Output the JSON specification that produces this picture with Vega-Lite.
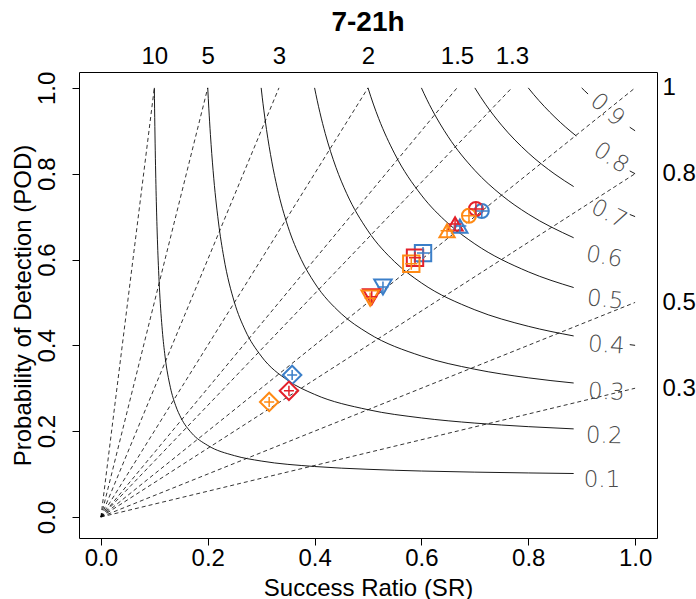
{
  "$schema": "https://vega.github.io/schema/vega-lite/v6.json",
  "width": 578,
  "height": 466,
  "autosize": {"type": "none"},
  "padding": {"left": 79, "top": 72, "right": 39, "bottom": 61},
  "background": "white",
  "title": {"text": "7-21h", "fontSize": 28, "font": "Liberation Sans", "fontWeight": "bold", "color": "black", "anchor": "middle", "offset": 7},
  "config": {
    "view": {"stroke": "black", "strokeWidth": 1},
    "axis": {"labelFont": "Liberation Sans", "titleFont": "Liberation Sans", "labelFontSize": 24, "titleFontSize": 24, "labelColor": "black", "titleColor": "black", "titleFontWeight": "normal", "tickColor": "black", "tickWidth": 1, "domain": false, "grid": false, "labelFlush": false, "labelOverlap": false}
  },
  "datasets": {
    "bias": [
      {"B": "0.3", "SR": 0, "POD": 0}, {"B": "0.3", "SR": 1, "POD": 0.3},
      {"B": "0.5", "SR": 0, "POD": 0}, {"B": "0.5", "SR": 1, "POD": 0.5},
      {"B": "0.8", "SR": 0, "POD": 0}, {"B": "0.8", "SR": 1, "POD": 0.8},
      {"B": "1", "SR": 0, "POD": 0}, {"B": "1", "SR": 1, "POD": 1},
      {"B": "1.3", "SR": 0, "POD": 0}, {"B": "1.3", "SR": 0.769231, "POD": 1},
      {"B": "1.5", "SR": 0, "POD": 0}, {"B": "1.5", "SR": 0.666667, "POD": 1},
      {"B": "2", "SR": 0, "POD": 0}, {"B": "2", "SR": 0.5, "POD": 1},
      {"B": "3", "SR": 0, "POD": 0}, {"B": "3", "SR": 0.333333, "POD": 1},
      {"B": "5", "SR": 0, "POD": 0}, {"B": "5", "SR": 0.2, "POD": 1},
      {"B": "10", "SR": 0, "POD": 0}, {"B": "10", "SR": 0.1, "POD": 1}
    ],
    "csi": [
      {"seg": "0.1", "SR": 0.1, "POD": 1}, {"seg": "0.1", "SR": 0.1005, "POD": 0.9526}, {"seg": "0.1", "SR": 0.101, "POD": 0.9099}, {"seg": "0.1", "SR": 0.102, "POD": 0.8361}, {"seg": "0.1", "SR": 0.103, "POD": 0.7744}, {"seg": "0.1", "SR": 0.105, "POD": 0.6774}, {"seg": "0.1", "SR": 0.108, "POD": 0.5745}, {"seg": "0.1", "SR": 0.11, "POD": 0.5238}, {"seg": "0.1", "SR": 0.115, "POD": 0.434}, {"seg": "0.1", "SR": 0.12, "POD": 0.375}, {"seg": "0.1", "SR": 0.13, "POD": 0.3023}, {"seg": "0.1", "SR": 0.14, "POD": 0.2593}, {"seg": "0.1", "SR": 0.15, "POD": 0.2308}, {"seg": "0.1", "SR": 0.17, "POD": 0.1954}, {"seg": "0.1", "SR": 0.2, "POD": 0.1667}, {"seg": "0.1", "SR": 0.25, "POD": 0.1429}, {"seg": "0.1", "SR": 0.3, "POD": 0.1304}, {"seg": "0.1", "SR": 0.4, "POD": 0.1176}, {"seg": "0.1", "SR": 0.5, "POD": 0.1111}, {"seg": "0.1", "SR": 0.6, "POD": 0.1071}, {"seg": "0.1", "SR": 0.7, "POD": 0.1045}, {"seg": "0.1", "SR": 0.8, "POD": 0.1026}, {"seg": "0.1", "SR": 0.885, "POD": 0.1013},
      {"seg": "0.2", "SR": 0.2, "POD": 1}, {"seg": "0.2", "SR": 0.201, "POD": 0.9757}, {"seg": "0.2", "SR": 0.202, "POD": 0.9528}, {"seg": "0.2", "SR": 0.205, "POD": 0.8913}, {"seg": "0.2", "SR": 0.21, "POD": 0.8077}, {"seg": "0.2", "SR": 0.22, "POD": 0.6875}, {"seg": "0.2", "SR": 0.23, "POD": 0.6053}, {"seg": "0.2", "SR": 0.25, "POD": 0.5}, {"seg": "0.2", "SR": 0.27, "POD": 0.4355}, {"seg": "0.2", "SR": 0.3, "POD": 0.375}, {"seg": "0.2", "SR": 0.35, "POD": 0.3182}, {"seg": "0.2", "SR": 0.4, "POD": 0.2857}, {"seg": "0.2", "SR": 0.5, "POD": 0.25}, {"seg": "0.2", "SR": 0.6, "POD": 0.2308}, {"seg": "0.2", "SR": 0.7, "POD": 0.2188}, {"seg": "0.2", "SR": 0.8, "POD": 0.2105}, {"seg": "0.2", "SR": 0.885, "POD": 0.2053},
      {"seg": "0.3", "SR": 0.3, "POD": 1}, {"seg": "0.3", "SR": 0.302, "POD": 0.9784}, {"seg": "0.3", "SR": 0.305, "POD": 0.9482}, {"seg": "0.3", "SR": 0.31, "POD": 0.9029}, {"seg": "0.3", "SR": 0.32, "POD": 0.8276}, {"seg": "0.3", "SR": 0.33, "POD": 0.7674}, {"seg": "0.3", "SR": 0.35, "POD": 0.6774}, {"seg": "0.3", "SR": 0.375, "POD": 0.6}, {"seg": "0.3", "SR": 0.4, "POD": 0.5455}, {"seg": "0.3", "SR": 0.45, "POD": 0.4737}, {"seg": "0.3", "SR": 0.5, "POD": 0.4286}, {"seg": "0.3", "SR": 0.6, "POD": 0.375}, {"seg": "0.3", "SR": 0.7, "POD": 0.3443}, {"seg": "0.3", "SR": 0.8, "POD": 0.3243}, {"seg": "0.3", "SR": 0.885, "POD": 0.3122},
      {"seg": "0.4", "SR": 0.4, "POD": 1}, {"seg": "0.4", "SR": 0.405, "POD": 0.9701}, {"seg": "0.4", "SR": 0.41, "POD": 0.9425}, {"seg": "0.4", "SR": 0.42, "POD": 0.8936}, {"seg": "0.4", "SR": 0.44, "POD": 0.8148}, {"seg": "0.4", "SR": 0.46, "POD": 0.7541}, {"seg": "0.4", "SR": 0.5, "POD": 0.6667}, {"seg": "0.4", "SR": 0.55, "POD": 0.5946}, {"seg": "0.4", "SR": 0.6, "POD": 0.5455}, {"seg": "0.4", "SR": 0.7, "POD": 0.4828}, {"seg": "0.4", "SR": 0.8, "POD": 0.4444}, {"seg": "0.4", "SR": 0.885, "POD": 0.4219},
      {"seg": "0.4t", "SR": 0.99, "POD": 0.4016}, {"seg": "0.4t", "SR": 1, "POD": 0.4},
      {"seg": "0.5", "SR": 0.5, "POD": 1}, {"seg": "0.5", "SR": 0.505, "POD": 0.9806}, {"seg": "0.5", "SR": 0.51, "POD": 0.9623}, {"seg": "0.5", "SR": 0.52, "POD": 0.9286}, {"seg": "0.5", "SR": 0.55, "POD": 0.8462}, {"seg": "0.5", "SR": 0.6, "POD": 0.75}, {"seg": "0.5", "SR": 0.65, "POD": 0.6842}, {"seg": "0.5", "SR": 0.7, "POD": 0.6364}, {"seg": "0.5", "SR": 0.8, "POD": 0.5714}, {"seg": "0.5", "SR": 0.885, "POD": 0.5347},
      {"seg": "0.6", "SR": 0.6, "POD": 1}, {"seg": "0.6", "SR": 0.61, "POD": 0.9734}, {"seg": "0.6", "SR": 0.62, "POD": 0.949}, {"seg": "0.6", "SR": 0.65, "POD": 0.8864}, {"seg": "0.6", "SR": 0.7, "POD": 0.8077}, {"seg": "0.6", "SR": 0.75, "POD": 0.75}, {"seg": "0.6", "SR": 0.8, "POD": 0.7059}, {"seg": "0.6", "SR": 0.885, "POD": 0.6507},
      {"seg": "0.7", "SR": 0.7, "POD": 1}, {"seg": "0.7", "SR": 0.71, "POD": 0.9803}, {"seg": "0.7", "SR": 0.72, "POD": 0.9618}, {"seg": "0.7", "SR": 0.75, "POD": 0.9131}, {"seg": "0.7", "SR": 0.8, "POD": 0.8485}, {"seg": "0.7", "SR": 0.85, "POD": 0.7987}, {"seg": "0.7", "SR": 0.885, "POD": 0.77},
      {"seg": "0.7t", "SR": 0.99, "POD": 0.705}, {"seg": "0.7t", "SR": 1, "POD": 0.7},
      {"seg": "0.8", "SR": 0.8, "POD": 1}, {"seg": "0.8", "SR": 0.81, "POD": 0.9848}, {"seg": "0.8", "SR": 0.83, "POD": 0.9568}, {"seg": "0.8", "SR": 0.85, "POD": 0.9315}, {"seg": "0.8", "SR": 0.87, "POD": 0.9086}, {"seg": "0.8", "SR": 0.89, "POD": 0.8878},
      {"seg": "0.8t", "SR": 0.99, "POD": 0.8065}, {"seg": "0.8t", "SR": 1, "POD": 0.8},
      {"seg": "0.9", "SR": 0.9, "POD": 1}, {"seg": "0.9", "SR": 0.905, "POD": 0.9939}, {"seg": "0.9", "SR": 0.912, "POD": 0.9856},
      {"seg": "0.9t", "SR": 0.99, "POD": 0.9083}, {"seg": "0.9t", "SR": 1, "POD": 0.9}
    ],
    "csiLab": [
      {"csi": 0.1, "SR": 0.938, "POD": 0.086},
      {"csi": 0.2, "SR": 0.942, "POD": 0.189},
      {"csi": 0.3, "SR": 0.946, "POD": 0.291},
      {"csi": 0.4, "SR": 0.946, "POD": 0.4},
      {"csi": 0.5, "SR": 0.944, "POD": 0.506},
      {"csi": 0.6, "SR": 0.942, "POD": 0.606},
      {"csi": 0.7, "SR": 0.951, "POD": 0.706},
      {"csi": 0.8, "SR": 0.955, "POD": 0.837},
      {"csi": 0.9, "SR": 0.948, "POD": 0.949}
    ],
    "pts": [
      {"model": "m1", "cat": "c1", "SR": 0.713, "POD": 0.713},
      {"model": "m1", "cat": "c2", "SR": 0.672, "POD": 0.678},
      {"model": "m1", "cat": "c3", "SR": 0.603, "POD": 0.615},
      {"model": "m1", "cat": "c4", "SR": 0.528, "POD": 0.536},
      {"model": "m1", "cat": "c5", "SR": 0.358, "POD": 0.331},
      {"model": "m2", "cat": "c1", "SR": 0.702, "POD": 0.718},
      {"model": "m2", "cat": "c2", "SR": 0.663, "POD": 0.683},
      {"model": "m2", "cat": "c3", "SR": 0.588, "POD": 0.604},
      {"model": "m2", "cat": "c4", "SR": 0.507, "POD": 0.513},
      {"model": "m2", "cat": "c5", "SR": 0.352, "POD": 0.294},
      {"model": "m3", "cat": "c1", "SR": 0.689, "POD": 0.702},
      {"model": "m3", "cat": "c2", "SR": 0.648, "POD": 0.667},
      {"model": "m3", "cat": "c3", "SR": 0.581, "POD": 0.59},
      {"model": "m3", "cat": "c4", "SR": 0.504, "POD": 0.51},
      {"model": "m3", "cat": "c5", "SR": 0.315, "POD": 0.268}
    ],
    "ax": [{"SR": 0.5, "POD": 0.5}]
  },
  "resolve": {"scale": {"size": "independent"}, "axis": {"x": "independent", "y": "independent"}},
  "layer": [
    {
      "data": {"name": "bias"},
      "mark": {"type": "line", "color": "black", "strokeWidth": 0.8, "strokeDash": [4, 3]},
      "encoding": {
        "x": {"field": "SR", "type": "quantitative", "scale": {"domain": [-0.041, 1.041], "nice": false, "zero": false},
              "axis": {"orient": "bottom", "values": [0, 0.2, 0.4, 0.6, 0.8, 1], "format": ".1f", "tickSize": 7, "labelPadding": 1, "title": "Success Ratio (SR)", "titlePadding": 6}},
        "y": {"field": "POD", "type": "quantitative", "scale": {"domain": [-0.049, 1.037], "nice": false, "zero": false},
              "axis": {"orient": "left", "values": [0, 0.2, 0.4, 0.6, 0.8, 1], "format": ".1f", "tickSize": 7, "labelAngle": -90, "labelAlign": "center", "labelBaseline": "middle", "labelPadding": 25, "title": "Probability of Detection (POD)", "titlePadding": 0}},
        "detail": {"field": "B"}
      }
    },
    {
      "data": {"name": "csi"},
      "mark": {"type": "line", "color": "black", "strokeWidth": 0.9, "interpolate": "monotone"},
      "encoding": {
        "x": {"field": "SR", "type": "quantitative", "axis": null},
        "y": {"field": "POD", "type": "quantitative", "axis": null},
        "detail": {"field": "seg"}
      }
    },
    {
      "data": {"name": "csiLab"},
      "mark": {"type": "text", "font": "DejaVu Sans", "fontWeight": 200, "fontSize": 23, "color": "#4a4a4a", "align": "center", "baseline": "middle"},
      "encoding": {
        "x": {"field": "SR", "type": "quantitative", "axis": null},
        "y": {"field": "POD", "type": "quantitative", "axis": null},
        "text": {"field": "csi", "type": "quantitative", "format": ".1f"},
        "angle": {"field": "csi", "type": "quantitative", "scale": {"domain": [0.1, 0.2, 0.3, 0.4, 0.5, 0.6, 0.7, 0.8, 0.9], "range": [0, 1, 2, 4, 6, 10, 27, 34, 41]}, "legend": null}
      }
    },
    {
      "data": {"name": "pts"},
      "mark": {"type": "point", "filled": false, "strokeWidth": 2, "opacity": 1},
      "encoding": {
        "x": {"field": "SR", "type": "quantitative", "axis": null},
        "y": {"field": "POD", "type": "quantitative", "axis": null},
        "shape": {"field": "cat", "type": "nominal", "scale": {"domain": ["c1", "c2", "c3", "c4", "c5"], "range": ["circle", "triangle-up", "square", "triangle-down", "diamond"]}, "legend": null},
        "size": {"field": "cat", "type": "nominal", "scale": {"domain": ["c1", "c2", "c3", "c4", "c5"], "range": [196, 340, 160, 340, 324]}, "legend": null},
        "color": {"field": "model", "type": "nominal", "scale": {"domain": ["m1", "m2", "m3"], "range": ["#3b7fc9", "#e3202a", "#ff8a14"]}, "legend": null}
      }
    },
    {
      "data": {"name": "pts"},
      "mark": {"type": "point", "filled": false, "strokeWidth": 1.5, "opacity": 1, "shape": "M-1,0L1,0M0,-1L0,1"},
      "encoding": {
        "x": {"field": "SR", "type": "quantitative", "axis": null},
        "y": {"field": "POD", "type": "quantitative", "axis": null},
        "size": {"field": "cat", "type": "nominal", "scale": {"domain": ["c1", "c2", "c3", "c4", "c5"], "range": [190, 100, 150, 100, 310]}, "legend": null},
        "color": {"field": "model", "type": "nominal", "legend": null}
      }
    },
    {
      "data": {"name": "ax"},
      "mark": {"type": "point", "opacity": 0},
      "encoding": {
        "x": {"field": "SR", "type": "quantitative",
              "axis": {"orient": "top", "values": [0.1, 0.2, 0.333333, 0.5, 0.666667, 0.769231], "labelExpr": "format(1/datum.value, '.2~g')", "ticks": false, "labelPadding": 4, "title": null}},
        "y": {"field": "POD", "type": "quantitative",
              "axis": {"orient": "right", "values": [0.3, 0.5, 0.8, 1], "labelExpr": "format(datum.value, '~g')", "ticks": false, "labelPadding": 5, "labelAlign": "left", "title": null}}
      }
    }
  ]
}
